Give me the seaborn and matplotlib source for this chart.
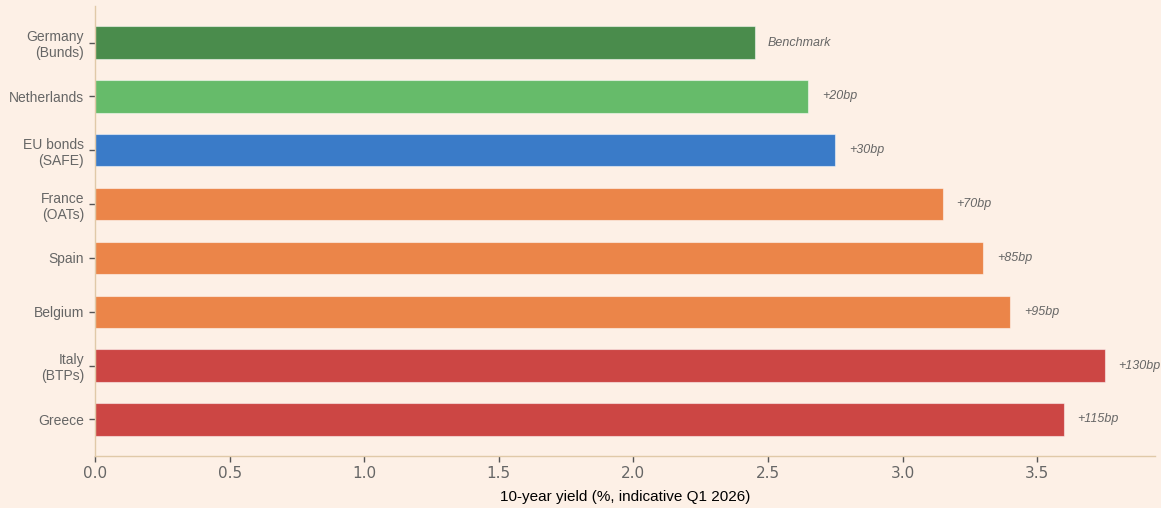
import matplotlib
matplotlib.use("Agg")
import matplotlib.pyplot as plt
import seaborn as sns
import pandas as pd

categories = ["Germany\n(Bunds)", "Netherlands", "EU bonds\n(SAFE)", "France\n(OATs)",
              "Spain", "Belgium", "Italy\n(BTPs)", "Greece"]
yields = [2.45, 2.65, 2.75, 3.15, 3.30, 3.40, 3.75, 3.60]
spread_labels = ["Benchmark", "+20bp", "+30bp", "+70bp", "+85bp", "+95bp", "+130bp", "+115bp"]
bar_colors = ["#4a8c4c", "#66bb6a", "#3a7bc8", "#eb8549", "#eb8549", "#eb8549", "#cc4644", "#cc4644"]

BG = "#fdf0e6"
SPINE = "#e0c9a8"
TXT = "#666666"

sns.set_theme(style="white")
plt.rcParams["font.family"] = ["DejaVu Sans"]

df = pd.DataFrame({"country": categories, "yield": yields})

fig = plt.figure(figsize=(11.61, 5.08), dpi=100, facecolor=BG)
ax = fig.add_axes([95/1161, 1 - 456/508, (1155 - 95)/1161, (456 - 6)/508])
ax.set_facecolor(BG)

sns.barplot(data=df, x="yield", y="country", hue="country", palette=bar_colors,
            legend=False, width=0.6, orient="h", ax=ax, saturation=1,
            edgecolor=(1, 1, 1, 0.5), linewidth=0.8)

xmax = max(yields) * 1.05
ax.set_xlim(0, xmax)
ax.set_ylim(len(categories) - 1 + 0.68, -0.68)

for i, (v, lab) in enumerate(zip(yields, spread_labels)):
    ax.text(v + 0.05, i, lab, va="center", ha="left", fontsize=9, style="italic",
            color=TXT, family="Liberation Sans")

ax.set_ylabel("")
ax.set_xlabel("10-year yield (%, indicative Q1 2026)", fontsize=11, color="black",
              family="Liberation Sans", labelpad=7)

for s in ["top", "right"]:
    ax.spines[s].set_visible(False)
for s in ["left", "bottom"]:
    ax.spines[s].set_color(SPINE)
    ax.spines[s].set_linewidth(1.0)

ax.tick_params(axis="x", labelsize=11, labelcolor=TXT, color="#555555",
               length=4, width=1, bottom=True, pad=3)
ax.tick_params(axis="y", labelsize=10, labelcolor=TXT, color="#555555",
               length=4, width=1, left=True, pad=4)
for t in ax.get_yticklabels():
    t.set_family("Liberation Sans")

fig.savefig("out.png", dpi=100, facecolor=BG)
